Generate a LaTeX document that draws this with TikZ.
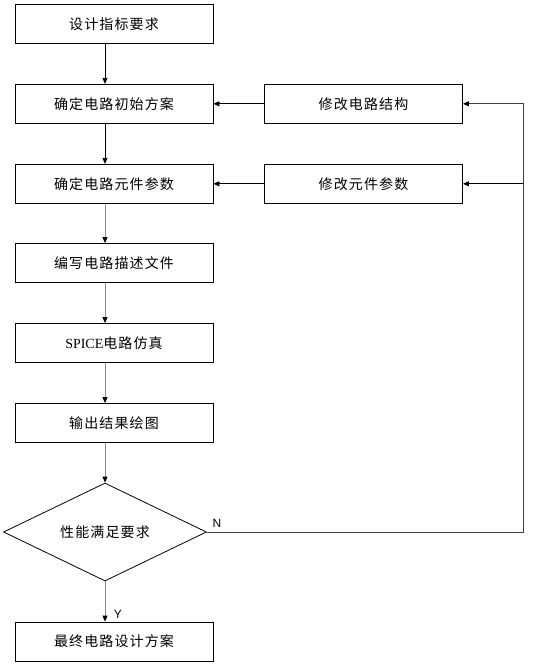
\documentclass[tikz,border=0pt]{standalone}
\usepackage{fontspec}
\usetikzlibrary{arrows.meta,shapes.geometric,calc}
\newfontfamily\cjk[LetterSpace=8]{Noto Sans CJK SC}
\newfontfamily\latserif{Liberation Serif}
\newfontfamily\latsans{Liberation Sans}
\begin{document}
\begin{tikzpicture}[x=1pt,y=-1pt,
  box/.style={draw=black,line width=0.8pt,minimum width=198pt,minimum height=39pt,inner sep=0pt,font=\cjk\fontsize{14}{14}\selectfont},
  dec/.style={draw=black,line width=0.8pt,diamond,aspect=2.07,minimum width=203pt,minimum height=98pt,inner sep=0pt,font=\cjk\fontsize{14}{14}\selectfont},
  conn/.style={line width=0.8pt,-{Triangle[length=6pt,width=5pt,color=black]}},
  lbl/.style={font=\latsans\fontsize{12}{12}\selectfont,inner sep=0pt}]
\useasboundingbox (0,0) rectangle (537,664);
\node[box] (b1) at (114,23.8) {设计指标要求};
\node[box] (b2) at (114,103.8) {确定电路初始方案};
\node[box] (b3) at (114,183.8) {确定电路元件参数};
\node[box] (b4) at (114,263) {编写电路描述文件};
\node[box] (b5) at (114,343) {{\latserif SPICE}电路仿真};
\node[box] (b6) at (114,423) {输出结果绘图};
\node[dec] (d) at (105,532) {性能满足要求};
\node[box] (b7) at (114,641.5) {最终电路设计方案};
\node[box] (r1) at (363.5,103.8) {修改电路结构};
\node[box] (r2) at (363.5,183.8) {修改元件参数};
\coordinate (c1) at (523,532);
\draw[conn] (b1.south -| d) -- (b2.north -| d);
\draw[conn] (b2.south -| d) -- (b3.north -| d);
\draw[conn,draw=black!45] (b3.south -| d) -- (b4.north -| d);
\draw[conn,draw=black!45] (b4.south -| d) -- (b5.north -| d);
\draw[conn,draw=black!45] (b5.south -| d) -- (b6.north -| d);
\draw[conn,draw=black!45] (b6.south -| d) -- (d.north);
\draw[conn,draw=black!45] (d.south) -- (b7.north -| d);
\draw[conn] (r1.west) -- (b2.east);
\draw[conn] (r2.west) -- (b3.east);
\draw[conn,draw=black!75] (d.east) -- (c1) |- (r1.east);
\draw[conn] (c1 |- r2.east) -- (r2.east);
\node[lbl] (n) at (217,523) {N};
\node[lbl] (y) at (118,614) {Y};
\end{tikzpicture}
\end{document}
